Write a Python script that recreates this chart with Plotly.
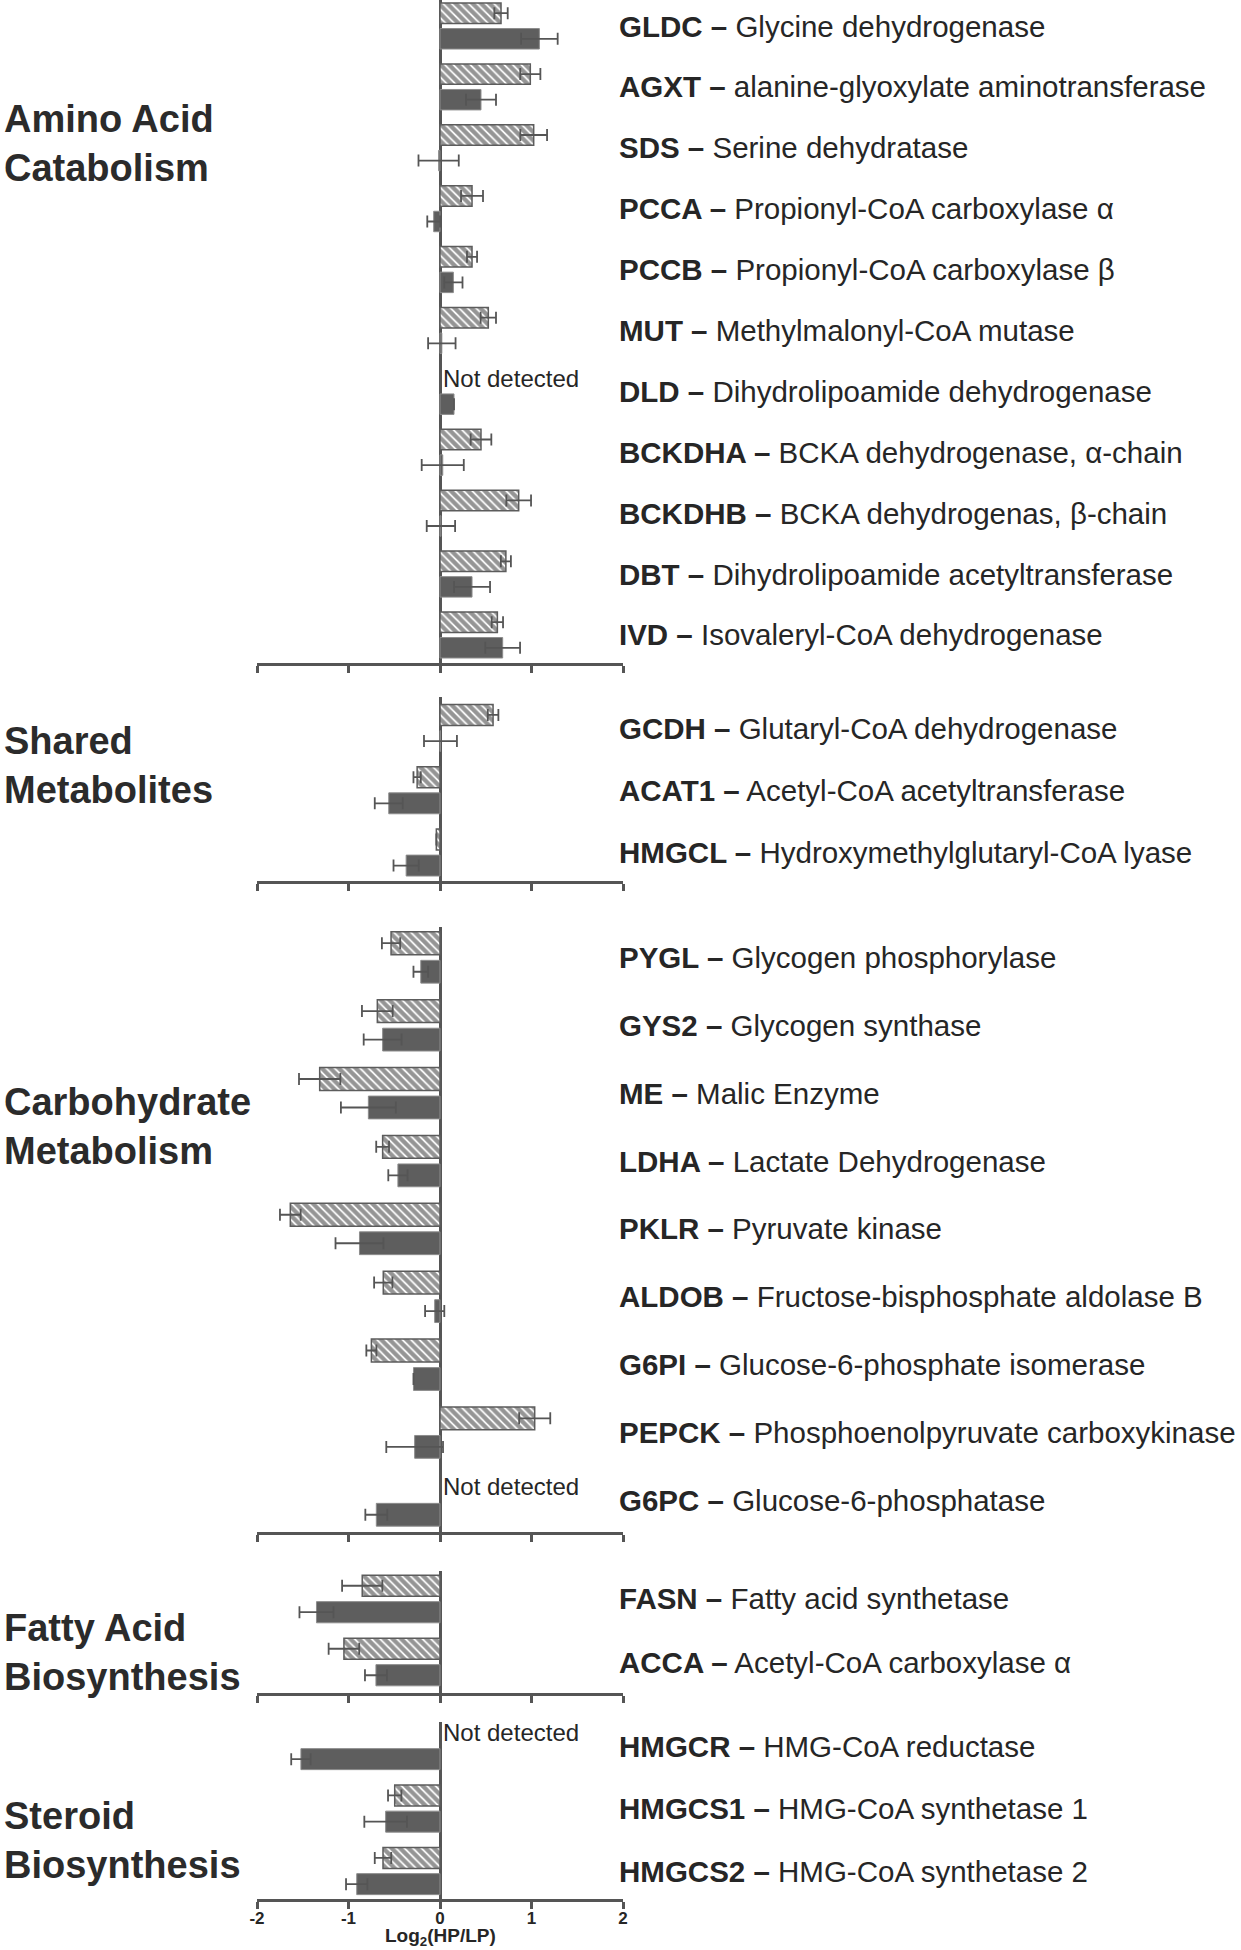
import plotly.graph_objects as go

# ---------------- data ----------------
group_names = ["Amino Acid<br>Catabolism", "Shared<br>Metabolites", "Carbohydrate<br>Metabolism",
               "Fatty Acid<br>Biosynthesis", "Steroid<br>Biosynthesis"]

amino_genes = ["GLDC", "AGXT", "SDS", "PCCA", "PCCB", "MUT", "DLD", "BCKDHA", "BCKDHB", "DBT", "IVD"]
amino_desc = ["Glycine dehydrogenase", "alanine-glyoxylate aminotransferase", "Serine dehydratase",
              "Propionyl-CoA carboxylase α", "Propionyl-CoA carboxylase β", "Methylmalonyl-CoA mutase",
              "Dihydrolipoamide dehydrogenase", "BCKA dehydrogenase, α-chain", "BCKA dehydrogenas, β-chain",
              "Dihydrolipoamide acetyltransferase", "Isovaleryl-CoA dehydrogenase"]
amino_hatched = [0.667, 0.987, 1.024, 0.35, 0.35, 0.528, None, 0.448, 0.86, 0.72, 0.627]
amino_hatched_err = [0.073, 0.11, 0.146, 0.12, 0.055, 0.084, None, 0.113, 0.135, 0.055, 0.062]
amino_solid = [1.086, 0.448, -0.015, -0.069, 0.146, 0.02, 0.153, 0.03, 0.01, 0.35, 0.685]
amino_solid_err = [0.20, 0.164, 0.22, 0.07, 0.10, 0.15, None, 0.23, 0.155, 0.197, 0.19]

shared_genes = ["GCDH", "ACAT1", "HMGCL"]
shared_desc = ["Glutaryl-CoA dehydrogenase", "Acetyl-CoA acetyltransferase", "Hydroxymethylglutaryl-CoA lyase"]
shared_hatched = [0.58, -0.25, -0.04]
shared_hatched_err = [0.058, 0.04, None]
shared_solid = [0.005, -0.56, -0.37]
shared_solid_err = [0.18, 0.153, 0.138]

carb_genes = ["PYGL", "GYS2", "ME", "LDHA", "PKLR", "ALDOB", "G6PI", "PEPCK", "G6PC"]
carb_desc = ["Glycogen phosphorylase", "Glycogen synthase", "Malic Enzyme", "Lactate Dehydrogenase",
             "Pyruvate kinase", "Fructose-bisphosphate aldolase B", "Glucose-6-phosphate isomerase",
             "Phosphoenolpyruvate carboxykinase", "Glucose-6-phosphatase"]
carb_hatched = [-0.535, -0.685, -1.315, -0.627, -1.636, -0.62, -0.75, 1.035, None]
carb_hatched_err = [0.10, 0.168, 0.226, 0.07, 0.113, 0.10, 0.055, 0.17, None]
carb_solid = [-0.21, -0.627, -0.783, -0.46, -0.88, -0.058, -0.29, -0.277, -0.696]
carb_solid_err = [0.08, 0.207, 0.30, 0.105, 0.262, 0.105, None, 0.31, 0.12]

fatty_genes = ["FASN", "ACCA"]
fatty_desc = ["Fatty acid synthetase", "Acetyl-CoA carboxylase α"]
fatty_hatched = [-0.85, -1.05]
fatty_hatched_err = [0.22, 0.167]
fatty_solid = [-1.35, -0.70]
fatty_solid_err = [0.186, 0.12]

steroid_genes = ["HMGCR", "HMGCS1", "HMGCS2"]
steroid_desc = ["HMG-CoA reductase", "HMG-CoA synthetase 1", "HMG-CoA synthetase 2"]
steroid_hatched = [None, -0.495, -0.623]
steroid_hatched_err = [None, 0.073, 0.09]
steroid_solid = [-1.52, -0.594, -0.91]
steroid_solid_err = [0.106, 0.233, 0.117]

not_detected_text = "Not detected"
x_ticks = [-2, -1, 0, 1, 2]
x_ticktext = ["-2", "-1", "0", "1", "2"]
x_title = "<b>Log<sub>2</sub>(HP/LP)</b>"

panels = [
    (amino_genes, amino_desc, amino_hatched, amino_hatched_err, amino_solid, amino_solid_err),
    (shared_genes, shared_desc, shared_hatched, shared_hatched_err, shared_solid, shared_solid_err),
    (carb_genes, carb_desc, carb_hatched, carb_hatched_err, carb_solid, carb_solid_err),
    (fatty_genes, fatty_desc, fatty_hatched, fatty_hatched_err, fatty_solid, fatty_solid_err),
    (steroid_genes, steroid_desc, steroid_hatched, steroid_hatched_err, steroid_solid, steroid_solid_err),
]

# ---------------- layout constants ----------------
W, H = 1241, 1950
ML, MR, MT, MB = 257, 618, 0, 51
PH = H - MT - MB
PW = W - ML - MR
panel_px = [(0, 663), (697, 881), (927, 1532), (1571, 1693), (1722, 1899)]
panel_range = [(-0.427, 10.46), (-0.498, 2.458), (-0.449, 8.464), (-0.444, 1.492), (-0.384, 2.448)]
group_center_px = [143, 766, 1126, 1652, 1840]

AX = "#555555"
TXT = "#262626"
SOLID = "#5e5e5e"
FONT = "Liberation Sans, Arial"

fig = go.Figure()
layout = dict(
    width=W, height=H,
    margin=dict(l=ML, r=MR, t=MT, b=MB),
    paper_bgcolor="white", plot_bgcolor="white",
    showlegend=False, barmode="group", bargap=0.16, bargroupgap=0.2,
    font=dict(family=FONT, color=TXT),
)
annotations = []

for i, (genes, desc, hv, he, sv, se) in enumerate(panels):
    n = i + 1
    xa = "x" if n == 1 else f"x{n}"
    ya = "y" if n == 1 else f"y{n}"
    top, bot = panel_px[i]
    r0, r1 = panel_range[i]
    fig.add_trace(go.Bar(
        y=genes, x=hv, orientation="h", xaxis=xa, yaxis=ya,
        marker=dict(color="white", line=dict(color="#5c5c5c", width=1.5),
                    pattern=dict(shape="\\", fgcolor="#2c2c2c", bgcolor="white", size=6, solidity=0.7)),
        error_x=dict(type="data", array=he, color="#555555", thickness=1.8, width=6),
    ))
    fig.add_trace(go.Bar(
        y=genes, x=sv, orientation="h", xaxis=xa, yaxis=ya,
        marker=dict(color=SOLID, line=dict(color="#8c8c8c", width=1)),
        error_x=dict(type="data", array=se, color="#555555", thickness=1.8, width=6),
    ))
    last = (n == len(panels))
    layout["xaxis" if n == 1 else f"xaxis{n}"] = dict(
        domain=[0, 1], anchor=ya, range=[-2, 2], tickvals=x_ticks, ticktext=x_ticktext,
        showticklabels=last, tickfont=dict(size=17, family=FONT, color=TXT, weight="bold"),
        ticks="outside", ticklen=7, tickwidth=2.5, tickcolor=AX, ticklabelstandoff=-5,
        showline=True, linecolor=AX, linewidth=2.5,
        showgrid=False, zeroline=True, zerolinecolor=AX, zerolinewidth=2.5,
    )
    layout["yaxis" if n == 1 else f"yaxis{n}"] = dict(
        domain=[1 - bot / PH, 1 - top / PH], anchor=xa, type="category",
        range=[r1, r0], visible=False, showgrid=False, zeroline=False,
    )
    pitch = (bot - top) / (r1 - r0)
    for g, d, h in zip(genes, desc, hv):
        annotations.append(dict(
            x=2, xref=xa, y=g, yref=ya, xanchor="left", yanchor="middle", xshift=-6,
            text=f"<b>{g} –</b> {d}", showarrow=False,
            font=dict(size=29.5, family=FONT, color=TXT),
        ))
        if h is None:
            annotations.append(dict(
                x=0, xref=xa, y=g, yref=ya, xanchor="left", yanchor="middle", xshift=1,
                yshift=pitch * 0.21, text=not_detected_text, showarrow=False,
                font=dict(size=24, family=FONT, color=TXT),
            ))
    annotations.append(dict(
        x=(2 - ML) / PW, xref="paper", y=1 - group_center_px[i] / PH, yref="paper",
        xanchor="left", yanchor="middle", align="left", text=f"<b>{group_names[i]}</b>",
        showarrow=False, font=dict(size=38, family=FONT, color="#2b2b2b"),
    ))

annotations.append(dict(
    x=0, xref="x5", y=0, yref="paper", xanchor="center", yanchor="top", yshift=-24,
    text=x_title, showarrow=False, font=dict(size=19, family=FONT, color=TXT),
))
layout["annotations"] = annotations
fig.update_layout(**layout)
fig.write_html("out.html", config={"displayModeBar": False},
               post_script="document.body.style.margin='0px';")
